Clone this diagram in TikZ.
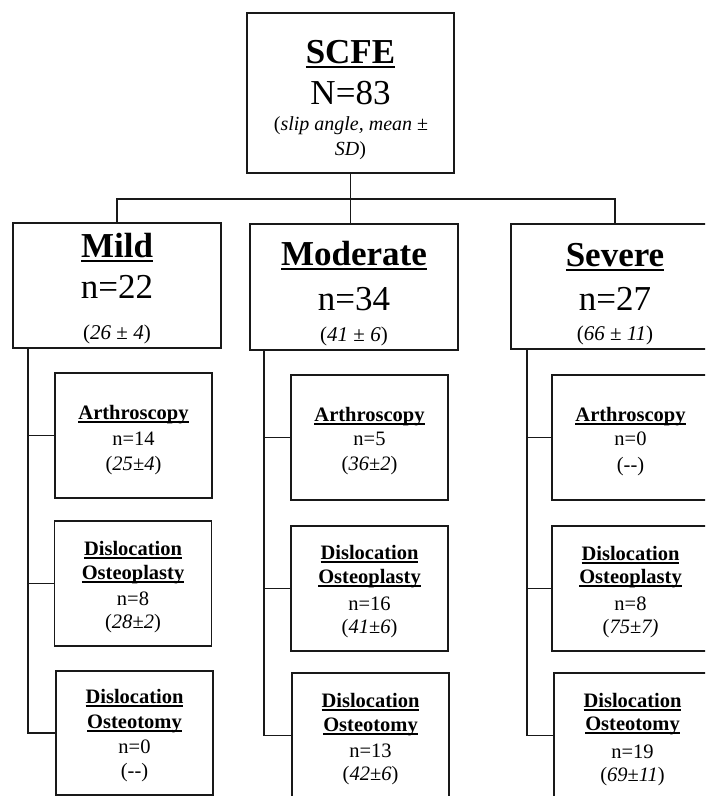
\documentclass[tikz,border=0pt]{standalone}
\usepackage{fontspec}
\setmainfont{Liberation Serif}
\newsavebox\ulbox
\newcommand\hul[1]{\sbox\ulbox{#1}\rlap{\rule[-4.6pt]{\wd\ulbox}{2pt}}\usebox\ulbox}
\newcommand\cul[1]{\sbox\ulbox{#1}\rlap{\rule[-3.6pt]{\wd\ulbox}{1.5pt}}\usebox\ulbox}
\newcommand\dd{(-{}-)}
\begin{document}
\begin{tikzpicture}[x=1pt,y=-1pt,
  box/.style={draw=black!90,line width=1.7pt,rectangle,inner sep=0pt,minimum width=#1},
  big/.style={box=208pt,minimum height=125pt},
  small/.style={box=157pt,minimum height=125pt},
  txt/.style={inner sep=0pt,anchor=base},
  tA/.style={txt,font=\fontsize{35}{40}\selectfont\bfseries},
  tN/.style={txt,font=\fontsize{35}{40}\selectfont},
  tP/.style={txt,font=\fontsize{21}{24}\selectfont},
  tS/.style={txt,font=\fontsize{20}{23}\selectfont},
  cA/.style={txt,font=\fontsize{20.5}{24}\selectfont\bfseries},
  cN/.style={txt,font=\fontsize{20.5}{24}\selectfont},
  conn/.style={draw=black!90,line width=1.7pt}]
\useasboundingbox (0,0) rectangle (705,796);
\clip (0,0) rectangle (705,796);
% boxes
\node[box=207pt,minimum height=160pt] (scfe) at (350.5,93) {};
\node[big] (mild) at (117,285.5) {};
\node[big,minimum height=126pt] (mod) at (354,287) {};
\node[big] (sev) at (615,286.5) {};
\node[small] (ma) at (133.5,435.5) {};
\node[small] (mb) at (133,583.5) {};
\node[small,minimum height=124pt] (mc) at (134.5,733) {};
\node[small] (oa) at (369.5,437.5) {};
\node[small] (ob) at (369.5,588.5) {};
\node[small] (oc) at (370.5,735.5) {};
\node[small] (sa) at (630.5,437.5) {};
\node[small] (sb) at (630.5,588.5) {};
\node[small] (sc) at (632.5,735.5) {};
% texts top
\node[tA] (t1) at (350.5,63) {\hul{SCFE}};
\node[tN] (t2) at (350.5,104) {N=83};
\node[tS] (t3) at (351,130) {(\textit{slip angle, mean} ±};
\node[tS] (t4) at (350.5,155) {\textit{SD})};
% level 2
\node[tA] (m1) at (117,257) {\hul{Mild}};
\node[tN] (m2) at (117,298) {n=22};
\node[tP] (m3) at (117,339) {(\textit{26} ± \textit{4})};
\node[tA] (o1) at (354,265) {\hul{Moderate}};
\node[tN] (o2) at (354,310) {n=34};
\node[tP] (o3) at (354,341) {(\textit{41} ± \textit{6})};
\node[tA] (s1) at (615,266) {\hul{Severe}};
\node[tN] (s2) at (615,310) {n=27};
\node[tP] (s3) at (615,340) {(\textit{66} ± \textit{11})};
% mild children
\node[cA] (ma1) at (133.5,419) {\cul{Arthroscopy}};
\node[cN] (ma2) at (133.5,445) {n=14};
\node[cN] (ma3) at (133.5,470) {(\textit{25}±\textit{4})};
\node[cA] (mb1) at (133,555) {\cul{Dislocation}};
\node[cA] (mb2) at (133,579) {\cul{Osteoplasty}};
\node[cN] (mb3) at (133,605) {n=8};
\node[cN] (mb4) at (133,628) {(\textit{28}±\textit{2})};
\node[cA] (mc1) at (134.5,703) {\cul{Dislocation}};
\node[cA] (mc2) at (134.5,728) {\cul{Osteotomy}};
\node[cN] (mc3) at (134.5,753) {n=0};
\node[cN] (mc4) at (134.5,777) {\dd};
% moderate children
\node[cA] (oa1) at (369.5,421) {\cul{Arthroscopy}};
\node[cN] (oa2) at (369.5,445) {n=5};
\node[cN] (oa3) at (369.5,470) {(\textit{36}±\textit{2})};
\node[cA] (ob1) at (369.5,559) {\cul{Dislocation}};
\node[cA] (ob2) at (369.5,583) {\cul{Osteoplasty}};
\node[cN] (ob3) at (369.5,610) {n=16};
\node[cN] (ob4) at (369.5,633) {(\textit{41}±\textit{6})};
\node[cA] (oc1) at (370.5,707) {\cul{Dislocation}};
\node[cA] (oc2) at (370.5,731) {\cul{Osteotomy}};
\node[cN] (oc3) at (370.5,757) {n=13};
\node[cN] (oc4) at (370.5,780) {(\textit{42}±\textit{6})};
% severe children
\node[cA] (sa1) at (630.5,421) {\cul{Arthroscopy}};
\node[cN] (sa2) at (630.5,445) {n=0};
\node[cN] (sa3) at (630.5,471) {\dd};
\node[cA] (sb1) at (630.5,560) {\cul{Dislocation}};
\node[cA] (sb2) at (630.5,583) {\cul{Osteoplasty}};
\node[cN] (sb3) at (630.5,610) {n=8};
\node[cN] (sb4) at (630.5,633) {(\textit{75}±\textit{7)}};
\node[cA] (sc1) at (632.5,707) {\cul{Dislocation}};
\node[cA] (sc2) at (632.5,730) {\cul{Osteotomy}};
\node[cN] (sc3) at (632.5,758) {n=19};
\node[cN] (sc4) at (632.5,781) {(\textit{69}±\textit{11})};
% connectors
\coordinate (bar) at (0,199);
\draw[conn] (scfe.south) -- (scfe.south |- mod.north);
\draw[conn] (mild.north) -- (mild.north |- bar) -- (sev.north |- bar) -- (sev.north);
\coordinate (mt) at (28,348);
\coordinate (ot) at (264,350);
\coordinate (st) at (527,349);
\draw[conn] (mt) |- (mc.west);
\draw[conn] (mt |- ma.west) -- (ma.west);
\draw[conn] (mt |- mb.west) -- (mb.west);
\draw[conn] (ot) |- (oc.west);
\draw[conn] (ot |- oa.west) -- (oa.west);
\draw[conn] (ot |- ob.west) -- (ob.west);
\draw[conn] (st) |- (sc.west);
\draw[conn] (st |- sa.west) -- (sa.west);
\draw[conn] (st |- sb.west) -- (sb.west);
\end{tikzpicture}
\end{document}
